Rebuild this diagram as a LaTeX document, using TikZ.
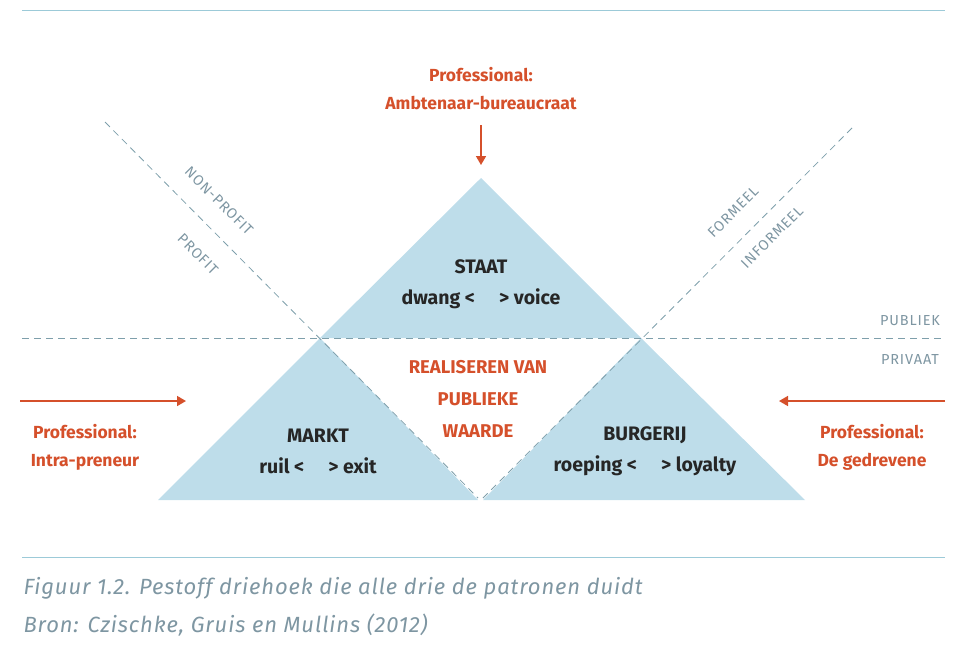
\documentclass[tikz,border=0pt]{standalone}
\usepackage{fontspec}
\setmainfont{Fira Sans}
\usetikzlibrary{arrows.meta}
\definecolor{vlak}{HTML}{BEDDEA}
\definecolor{oranje}{HTML}{D5502B}
\definecolor{lijn}{HTML}{9CCAD8}
\definecolor{streep}{HTML}{7E9FAB}
\definecolor{grijs}{HTML}{7E96A2}
\tikzset{
  driehoek/.style={fill=vlak,draw=none},
  deellijn/.style={streep,thick,dash pattern=on 7pt off 5pt},
  pijl/.style={oranje,line width=1.6pt,-{Triangle[length=9pt,width=10pt]}},
  prof/.style={oranje,font=\bfseries\fontsize{17.5}{28}\selectfont,align=center},
  veld/.style={text=black!85,font=\fontsize{19.5}{31}\selectfont\bfseries,align=center},
  grens/.style={grijs,font=\fontsize{14.5}{16}\selectfont\addfontfeatures{LetterSpace=6}},
}
\begin{document}
\begin{tikzpicture}[x=1pt,y=-1pt]
\useasboundingbox (0,0) rectangle (973,649);
% kaderlijnen
\draw[lijn,thick](22,10)--(945,10);
\draw[lijn,thick](22,557)--(945,557);
% driehoeken
\coordinate (top) at (481,178);
\coordinate (sl) at (320,338);
\coordinate (sr) at (641,338);
\fill[driehoek](top)--(sr)--(sl)--cycle;
\fill[driehoek](sl)--(478,500)--(158,500)--cycle;
\fill[driehoek](sr)--(805,500)--(483,500)--cycle;
% scheidingslijnen
\draw[deellijn](22,338)--(945,338);
\draw[deellijn](105,122)--(478,498);
\draw[deellijn](852,128)--(483,498);
\node[grens,rotate=-45] (np) at (219,201){NON-PROFIT};
\node[grens,rotate=-45] (pr) at (198,254){PROFIT};
\node[grens,rotate=45] (fm) at (733,212){FORMEEL};
\node[grens,rotate=45] (ifm) at (772,237){INFORMEEL};
\node[grens] (pub) at (910,321){PUBLIEK};
\node[grens] (priv) at (910,359){PRIVAAT};
% velden
\node[veld] (staat) at (481,284){STAAT\\dwang <\quad\ > voice};
\node[veld] (markt) at (318,451){MARKT\\ruil <\quad\ > exit};
\node[veld] (burg) at (645,451){BURGERIJ\\roeping <\quad\ > loyalty};
\node[prof,font=\bfseries\fontsize{18.5}{32}\selectfont] (waarde) at (478,399){REALISEREN VAN\\PUBLIEKE\\WAARDE};
% professionals
\node[prof] (amb) at (481,89){Professional:\\Ambtenaar-bureaucraat};
\node[prof] (intra) at (85,447){Professional:\\Intra-preneur};
\node[prof] (gedr) at (872,447){Professional:\\De gedrevene};
\coordinate (a1) at (481,125);
\coordinate (a2) at (481,165);
\coordinate (l1) at (20,401);
\coordinate (l2) at (186,401);
\coordinate (r1) at (945,401);
\coordinate (r2) at (779,401);
\draw[pijl](a1)--(a2);
\draw[pijl](l1)--(l2);
\draw[pijl](r1)--(r2);
% bijschrift
\node[grijs,anchor=west,font=\itshape\fontsize{22}{24}\selectfont\addfontfeatures{LetterSpace=4}] (fig) at (20,588){Figuur 1.2. Pestoff driehoek die alle drie de patronen duidt};
\node[grijs,anchor=west,font=\itshape\fontsize{22}{24}\selectfont\addfontfeatures{LetterSpace=4}] (bron) at (20,625){Bron: Czischke, Gruis en Mullins (2012)};
\end{tikzpicture}
\end{document}
